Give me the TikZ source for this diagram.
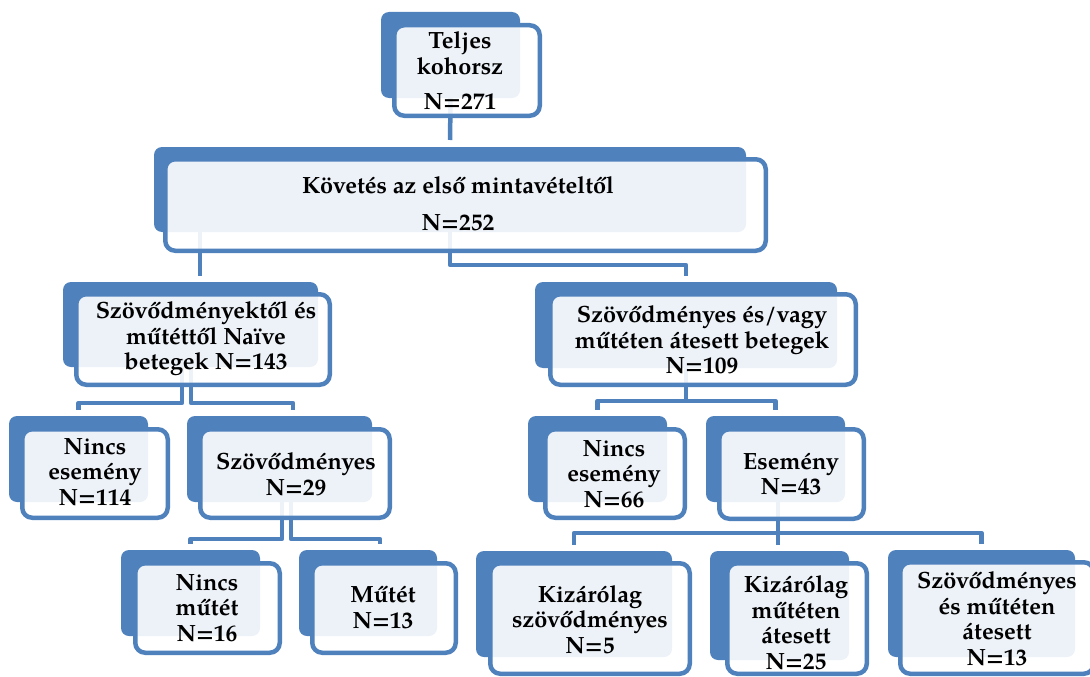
\documentclass[tikz,border=0pt]{standalone}
\usepackage{fontspec}
\setmainfont{texgyrepagella}[Extension=.otf,UprightFont=*-regular,BoldFont=*-bold,ItalicFont=*-italic,BoldItalicFont=*-bolditalic]
\usetikzlibrary{calc}
\definecolor{sablue}{HTML}{4F81BD}
\newcommand\backbox[5]{\node[back,minimum width={#4-#2},minimum height={#5-#3}] (#1) at ({(#2+#4)/2},{(#3+#5)/2}) {};}
\newcommand\frontbox[5]{\node[front,minimum width={#4-#2-4.5},minimum height={#5-#3-4.5}] (#1) at ({(#2+#4)/2},{(#3+#5)/2}) {};}
\begin{document}
\begin{tikzpicture}[x=1pt,y=-1pt,
  back/.style={draw=none,fill=sablue,rounded corners=8pt,inner sep=0pt,outer sep=0pt},
  front/.style={draw=sablue,line width=4.5pt,fill=white,fill opacity=0.9,draw opacity=1,rounded corners=10pt,inner sep=0pt,outer sep=0pt},
  lbl/.style={font=\fontsize{23.5}{25.5}\selectfont\bfseries,align=center,inner sep=0pt,text=black},
  conn/.style={draw=sablue,line width=4.5pt,shorten >=6pt,line join=round}]
\useasboundingbox (0,0) rectangle (1090,677);
\clip (0,0) rectangle (1090,677);
% back rectangles
\backbox{topb}{381}{12}{520}{98}
\backbox{kovb}{154}{147}{746}{232}
\backbox{L1b}{63}{282}{318}{367}
\backbox{R1b}{535}{282}{837}{368}
\backbox{L2ab}{9}{416}{148}{502}
\backbox{L2bb}{187}{416}{372}{502}
\backbox{R2ab}{528}{416}{667}{502}
\backbox{R2bb}{706}{416}{845}{502}
\backbox{L3ab}{121}{550}{260}{636}
\backbox{L3bb}{299}{550}{437}{636}
\backbox{B1b}{476}{551}{672}{657}
\backbox{B2b}{710}{551}{849}{660}
\backbox{B3b}{888}{550}{1075}{657}
% connectors
\draw[conn,shorten >=7pt] (topb.south) -- (kovb.north);
\draw[conn] (kovb.south -| 200,0) -- (L1b.north -| 200,0);
\draw[conn] (kovb.south) -- (450,265) -| (R1b.north);
\draw[conn] (L1b.south -| 182,0) -- (182,403) -| (L2ab.north);
\draw[conn] (L1b.south -| 191,0) -- (191,403) -| (L2bb.north -| 293,0);
\draw[conn] (R1b.south) -- (686,401) -| (R2ab.north);
\draw[conn] (R1b.south) -- (686,401) -| (R2bb.north);
\draw[conn] (L2bb.south -| 282,0) -- (282,539) -| (L3ab.north);
\draw[conn] (L2bb.south -| 291,0) -- (291,539) -| (L3bb.north -| 380,0);
\draw[conn] (R2bb.south -| 778,0) -- (778,533) -| (B1b.north);
\draw[conn] (R2bb.south -| 778,0) -- (B2b.north -| 778,0);
\draw[conn] (R2bb.south -| 778,0) -- (778,533) -| (B3b.north);
% front rectangles
\frontbox{topf}{392}{23}{542}{118}
\frontbox{kovf}{163}{157}{768}{253}
\frontbox{L1f}{74}{292}{332}{387}
\frontbox{R1f}{548}{292}{858}{387}
\frontbox{L2af}{20}{427}{170}{520}
\frontbox{L2bf}{198}{427}{392}{520}
\frontbox{R2af}{543}{427}{687}{520}
\frontbox{R2bf}{717}{427}{866}{521}
\frontbox{L3af}{133}{561}{282}{655}
\frontbox{L3bf}{310}{561}{458}{655}
\frontbox{B1f}{488}{561}{692}{676}
\frontbox{B2f}{725}{561}{869}{676}
\frontbox{B3f}{898}{560}{1096}{676}
% labels
\node[lbl] (topt) at (460,71) {Teljes\\kohorsz\\[10pt]N=271};
\node[lbl] (kovt) at (458,203.5) {Követés az első mintavételtől\\[11pt]N=252};
\node[lbl] (L1t) at (206,339) {Szövődményektől és\\műtéttől Naïve\\betegek N=143};
\node[lbl] (R1t) at (702,340) {Szövődményes és/vagy\\műtéten átesett betegek\\N=109};
\node[lbl] (L2at) at (95,472) {Nincs\\esemény\\N=114};
\node[lbl] (L2bt) at (296,474) {Szövődményes\\N=29};
\node[lbl] (R2at) at (614,474) {Nincs\\esemény\\N=66};
\node[lbl] (R2bt) at (791,474) {Esemény\\N=43};
\node[lbl] (L3at) at (207,608) {Nincs\\műtét\\N=16};
\node[lbl] (L3bt) at (383,607.5) {Műtét\\N=13};
\node[lbl] (B1t) at (590,619.5) {Kizárólag\\szövődményes\\N=5};
\node[lbl] (B2t) at (796,622.5) {Kizárólag\\műtéten\\átesett\\N=25};
\node[lbl] (B3t) at (997,618.5) {Szövődményes\\és műtéten\\átesett\\N=13};
\end{tikzpicture}
\end{document}
